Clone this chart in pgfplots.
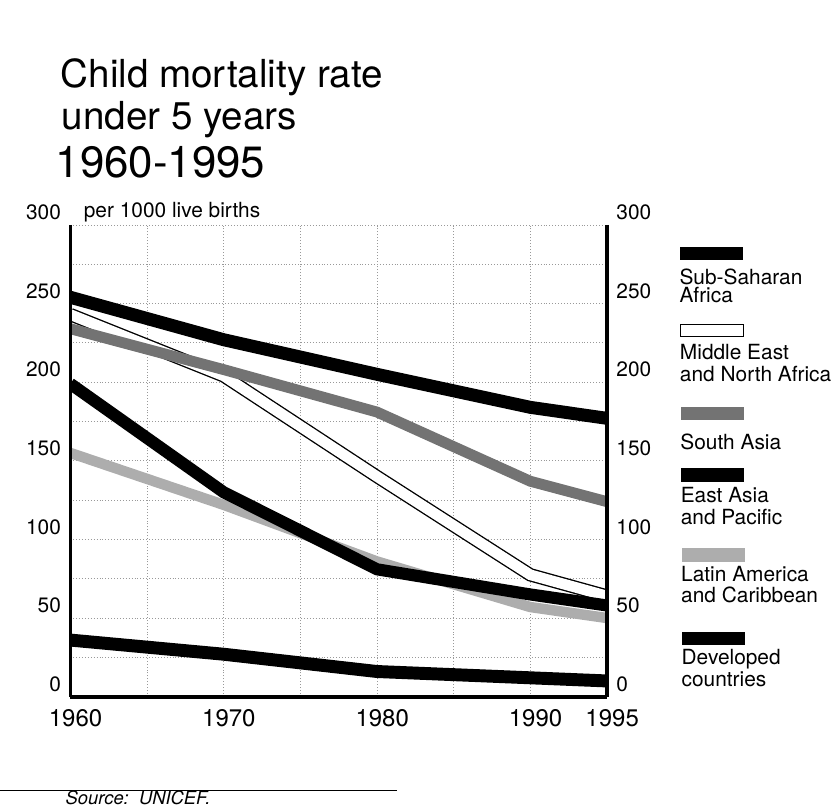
\documentclass[border=0pt]{standalone}
\usepackage{fontspec}
\setmainfont{TeX Gyre Heros}
\usepackage{pgfplots}
\pgfplotsset{compat=1.18}
\definecolor{sagray}{gray}{0.45}
\definecolor{lagray}{gray}{0.68}
\begin{document}
\begin{tikzpicture}[x=1pt,y=1pt]
\path (0,0) rectangle (400,388);
% titles
\node[anchor=base west, inner sep=0, font=\fontsize{18.5}{20}\selectfont] at (28.7,345.9) {Child mortality rate};
\node[anchor=base west, inner sep=0, font=\fontsize{18.5}{20}\selectfont] at (29.2,325.7) {under 5 years};
\node[anchor=base west, inner sep=0, font=\fontsize{21}{22}\selectfont] at (26.3,302.7) {1960-1995};
\node[anchor=base west, inner sep=0, font=\fontsize{10}{12}\selectfont] at (39.8,283.6) {per 1000 live births};
\begin{axis}[
  at={(33.5pt,54.1pt)}, anchor=south west,
  scale only axis, width=257.2pt, height=226.1pt,
  xmin=1960, xmax=1995, ymin=0, ymax=300,
  xtick={1960,1970,1980,1990,1995},
  minor xtick={1965,1975,1985},
  ytick={0,50,...,300},
  minor ytick={25,75,...,275},
  grid=both,
  major grid style={densely dotted, gray!80, line width=0.4pt},
  minor grid style={densely dotted, gray!80, line width=0.4pt},
  axis line style={draw=none},
  major tick length=0, minor tick length=0,
  /pgf/number format/assume math mode=true,
  /pgf/number format/1000 sep={},
  xticklabel style={font=\fontsize{11.5}{12}\selectfont, yshift=-2.5pt, xshift=2.5pt},
  yticklabel style={font=\fontsize{10}{12}\selectfont, yshift=6pt, xshift=-1pt},
  clip mode=individual,
]
% Middle East and North Africa (white band with black outline)
\addplot[black, line width=6.4pt] coordinates {(1960,243) (1970,204) (1980,140) (1990,77.5) (1995,64)};
\addplot[white, line width=5.1pt] coordinates {(1960,243) (1970,204) (1980,140) (1990,77.5) (1995,64)};
% South Asia
\addplot[sagray, line width=5.2pt] coordinates {(1960,234) (1970,208) (1980,181) (1990,137) (1995,124)};
% Sub-Saharan Africa
\addplot[black, line width=6.2pt] coordinates {(1960,254) (1970,227) (1980,205) (1990,184) (1995,177)};
% Latin America and Caribbean
\addplot[lagray, line width=5pt] coordinates {(1960,155) (1970,122) (1980,86) (1990,57) (1995,50)};
% East Asia and Pacific
\addplot[black, line width=5.8pt] coordinates {(1960,199) (1970,130) (1980,81) (1990,65) (1995,58)};
% Developed countries
\addplot[black, line width=6.2pt] coordinates {(1960,36) (1970,27) (1980,16) (1990,12) (1995,10)};
% axis frame
\draw[line width=1.5pt] (rel axis cs:0,1) -- (rel axis cs:0,0);
\draw[line width=1.5pt] (rel axis cs:1,1) -- (rel axis cs:1,0);
\draw[line width=2pt] (rel axis cs:0,0) -- (rel axis cs:1,0);
\end{axis}
\begin{axis}[
  at={(33.5pt,54.1pt)}, anchor=south west,
  scale only axis, width=257.2pt, height=226.1pt,
  xmin=1960, xmax=1995, ymin=0, ymax=300,
  hide x axis,
  axis y line*=right,
  y axis line style={draw=none},
  ytick={0,50,...,300},
  major tick length=0,
  /pgf/number format/assume math mode=true,
  yticklabel style={font=\fontsize{10}{12}\selectfont, yshift=6pt, xshift=1pt},
]
\end{axis}
% legend
\begin{scope}[every node/.style={anchor=base west, inner sep=0, font=\fontsize{10}{12}\selectfont}]
\fill[black] (325.7,263.5) rectangle (355.9,269.7);
\node at (325.3,251.8) {Sub-Saharan};
\node at (325.3,242.9) {Africa};
\draw[black, line width=0.6pt, fill=white] (325.9,226.6) rectangle (356.1,232.3);
\node at (325.5,215.6) {Middle East};
\node at (325.5,205.2) {and North Africa};
\fill[sagray] (326.1,186.8) rectangle (356.3,193.1);
\node at (325.7,172.5) {South Asia};
\fill[black] (326.3,157.1) rectangle (356.5,163.8);
\node at (325.9,147.1) {East Asia};
\node at (325.9,136.5) {and Pacific};
\fill[lagray] (326.5,118.8) rectangle (356.7,125.5);
\node at (326.1,109.2) {Latin America};
\node at (326.1,99.2) {and Caribbean};
\fill[black] (326.7,79.0) rectangle (356.9,85.3);
\node at (326.3,69.5) {Developed};
\node at (326.3,58.9) {countries};
\end{scope}
% source
\draw[line width=0.4pt] (0,9.1) -- (190,9.1);
\node[anchor=base west, inner sep=0, font=\fontsize{8.8}{10}\itshape] at (31.1,2.4) {Source:\ \ UNICEF.};
\end{tikzpicture}
\end{document}
